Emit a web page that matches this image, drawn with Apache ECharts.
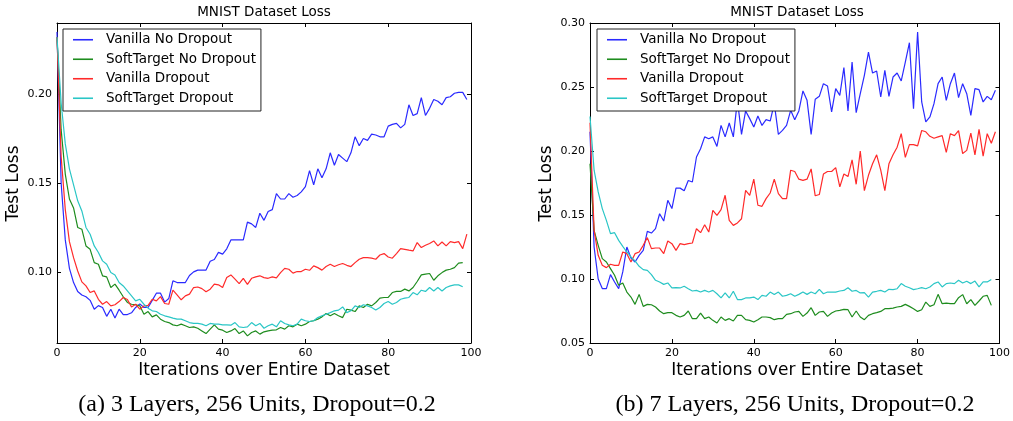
<!DOCTYPE html>
<html><head><meta charset="utf-8">
<script src="https://cdn.jsdelivr.net/npm/echarts@6/dist/echarts.min.js"></script>
<style>html,body{margin:0;padding:0;background:#fff}#c{width:1013px;height:421px}</style>
</head><body><div id="c"></div><script>
// ---- data ----
const seriesNames = ['Vanilla No Dropout', 'SoftTarget No Dropout', 'Vanilla Dropout', 'SoftTarget Dropout'];
const xTicks = [0, 20, 40, 60, 80, 100];
const yTicksA = [0.10, 0.15, 0.20];
const yTicksB = [0.05, 0.10, 0.15, 0.20, 0.25, 0.30];

// (a) 3 layers
const aVanillaNoDrop = [0.235,0.150,0.118,0.102,0.094,0.089,0.087,0.086,0.084,0.079,
0.081,0.080,0.075,0.079,0.074,0.079,0.076,0.076,0.077,0.080,
0.082,0.080,0.080,0.084,0.088,0.088,0.083,0.085,0.095,0.094,
0.094,0.094,0.098,0.100,0.101,0.101,0.101,0.106,0.107,0.111,
0.110,0.113,0.118,0.118,0.118,0.118,0.128,0.127,0.125,0.133,
0.129,0.134,0.135,0.144,0.141,0.141,0.144,0.142,0.143,0.145,
0.148,0.157,0.149,0.158,0.153,0.158,0.167,0.160,0.166,0.164,
0.162,0.167,0.176,0.171,0.175,0.174,0.1775,0.177,0.176,0.176,
0.182,0.183,0.1835,0.181,0.183,0.194,0.188,0.189,0.198,0.188,
0.192,0.197,0.196,0.194,0.198,0.1985,0.2005,0.201,0.201,0.197];
const aSoftNoDrop = [0.232,0.180,0.155,0.141,0.136,0.125,0.124,0.1146,0.1127,0.1052,
0.1043,0.0978,0.0972,0.0912,0.0931,0.0897,0.0860,0.0828,0.0818,0.0815,
0.0809,0.0762,0.0777,0.0747,0.0758,0.0734,0.0721,0.0715,0.0702,0.0697,
0.0706,0.0697,0.0687,0.0691,0.0683,0.0668,0.0653,0.0678,0.0702,0.0678,
0.0672,0.0659,0.0668,0.0681,0.0653,0.0668,0.0640,0.0659,0.0668,0.0650,
0.0663,0.0668,0.0672,0.0674,0.0687,0.0678,0.0697,0.0691,0.0706,0.0697,
0.0706,0.0721,0.0725,0.0734,0.0747,0.0766,0.0753,0.0766,0.0753,0.0743,
0.0790,0.0785,0.0777,0.0809,0.0800,0.0818,0.0809,0.0828,0.0852,0.0856,
0.0856,0.0884,0.0890,0.0890,0.0903,0.0893,0.0912,0.0946,0.0983,0.0987,
0.0991,0.0953,0.0978,0.0996,0.1010,0.1015,0.1024,0.1049,0.1052];
const aVanillaDrop = [0.232,0.165,0.135,0.117,0.108,0.1005,0.0944,0.0921,0.0884,0.0893,
0.0846,0.0818,0.0833,0.0809,0.0815,0.0833,0.0856,0.0845,0.0803,0.0818,
0.0790,0.0809,0.0812,0.0846,0.0837,0.0861,0.0822,0.0818,0.0897,0.0871,
0.0843,0.0865,0.0875,0.0912,0.0915,0.0906,0.0888,0.0903,0.0931,0.0927,
0.0912,0.0968,0.0983,0.0959,0.0934,0.0964,0.0930,0.0964,0.0972,0.0978,
0.0968,0.0964,0.0972,0.0966,0.0996,0.1020,0.1015,0.0993,0.1002,0.1002,
0.1015,0.1009,0.1034,0.1024,0.1010,0.1030,0.1043,0.1030,0.1040,0.1047,
0.1037,0.1030,0.1052,0.1071,0.1080,0.1080,0.1077,0.1071,0.1095,0.1103,
0.1084,0.1077,0.1103,0.1131,0.1127,0.1122,0.1118,0.1165,0.1137,0.1150,
0.1160,0.1174,0.1146,0.1168,0.1146,0.1170,0.1165,0.1170,0.1131,0.1212];
const aSoftDrop = [0.232,0.195,0.172,0.158,0.149,0.140,0.1343,0.125,0.1212,0.1146,
0.1109,0.1062,0.1043,0.0996,0.0983,0.0940,0.0921,0.0893,0.0865,0.0837,
0.0846,0.0818,0.0796,0.0781,0.0777,0.0762,0.0753,0.0747,0.0740,0.0734,
0.0734,0.0725,0.0715,0.0710,0.0710,0.0706,0.0697,0.0710,0.0706,0.0706,
0.0702,0.0702,0.0700,0.0715,0.0691,0.0687,0.0691,0.0715,0.0697,0.0710,
0.0683,0.0697,0.0706,0.0691,0.0725,0.0710,0.0702,0.0697,0.0706,0.0734,
0.0725,0.0721,0.0725,0.0743,0.0753,0.0762,0.0771,0.0781,0.0785,0.0803,
0.0771,0.0781,0.0809,0.0800,0.0815,0.0809,0.0800,0.0785,0.0800,0.0822,
0.0833,0.0818,0.0828,0.0846,0.0852,0.0856,0.0884,0.0871,0.0897,0.0890,
0.0912,0.0893,0.0912,0.0893,0.0912,0.0921,0.0927,0.0927,0.0916];

// (b) 7 layers
const bVanillaNoDrop = [0.215,0.125,0.100,0.0925,0.0925,0.1034,0.0977,0.0925,0.1055,0.125,
0.1164,0.1133,0.1185,0.1224,0.1372,0.1359,0.1393,0.151,0.1453,0.1615,
0.155,0.171,0.171,0.169,0.177,0.1758,0.1953,0.2018,0.211,0.2096,
0.211,0.2036,0.220,0.211,0.2219,0.211,0.2396,0.213,0.2313,0.2253,
0.2188,0.2273,0.220,0.2245,0.2234,0.237,0.213,0.2161,0.220,0.2318,
0.2245,0.2313,0.2469,0.2396,0.213,0.2404,0.2427,0.2526,0.2508,0.2305,
0.2487,0.2435,0.2651,0.2313,0.2695,0.230,0.2448,0.2591,0.2773,0.2609,
0.2625,0.2422,0.263,0.2427,0.2578,0.2609,0.2547,0.2695,0.2846,0.2331,
0.293,0.2383,0.2227,0.2266,0.237,0.2526,0.2578,0.2396,0.2526,0.2609,
0.2417,0.2526,0.2448,0.2279,0.2487,0.2479,0.2383,0.2427,0.2401,0.2474];
const bSoftNoDrop = [0.190,0.138,0.1263,0.1159,0.1133,0.1081,0.1029,0.0951,0.0969,0.0898,
0.0859,0.0802,0.088,0.0786,0.0802,0.0799,0.0781,0.075,0.0729,0.0737,
0.0737,0.0716,0.0703,0.0716,0.075,0.069,0.069,0.0734,0.069,0.0703,
0.0677,0.0656,0.0703,0.0677,0.069,0.0672,0.0716,0.0716,0.0682,0.0677,
0.0664,0.0682,0.0703,0.0703,0.0698,0.0682,0.069,0.069,0.0724,0.0729,
0.0742,0.0747,0.0708,0.0734,0.0776,0.0716,0.0742,0.0747,0.0708,0.0734,
0.075,0.0755,0.0763,0.076,0.0703,0.075,0.0703,0.0682,0.0716,0.0729,
0.0737,0.0747,0.0768,0.0768,0.0773,0.0781,0.0786,0.0802,0.0786,0.0768,
0.0747,0.076,0.082,0.0786,0.0799,0.088,0.0807,0.0812,0.0807,0.0807,
0.0854,0.0878,0.0807,0.0839,0.0794,0.0828,0.0865,0.0872,0.0794];
const bVanillaDrop = [0.222,0.138,0.1185,0.1107,0.1089,0.1115,0.1107,0.1107,0.1211,0.1198,
0.1133,0.1198,0.1211,0.1263,0.1323,0.1237,0.1242,0.1242,0.1198,0.1297,
0.1276,0.1224,0.1276,0.1268,0.1276,0.1281,0.1393,0.1362,0.1424,0.1367,
0.1536,0.1497,0.1542,0.1654,0.1458,0.1419,0.1438,0.1471,0.1693,0.1654,
0.178,0.1576,0.1568,0.1628,0.1672,0.178,0.1667,0.1628,0.1628,0.185,
0.184,0.178,0.177,0.178,0.186,0.165,0.166,0.182,0.184,0.184,
0.187,0.172,0.182,0.180,0.193,0.174,0.200,0.169,0.181,0.190,
0.197,0.185,0.169,0.190,0.197,0.203,0.2135,0.195,0.205,0.205,
0.204,0.216,0.215,0.2115,0.210,0.211,0.212,0.199,0.2135,0.212,
0.216,0.198,0.2005,0.214,0.197,0.217,0.196,0.2135,0.206,0.215];
const bSoftDrop = [0.227,0.185,0.168,0.155,0.1458,0.1354,0.1362,0.1302,0.1255,0.1211,
0.1172,0.1141,0.1099,0.1073,0.1068,0.1034,0.099,0.0977,0.0958,0.0969,
0.093,0.0932,0.093,0.0943,0.0924,0.0906,0.0911,0.0898,0.0911,0.0898,
0.0911,0.0885,0.0852,0.0891,0.0852,0.0904,0.0839,0.0839,0.0852,0.0852,
0.0859,0.0839,0.0872,0.0865,0.0898,0.0878,0.0898,0.0865,0.0872,0.0885,
0.0865,0.0880,0.0898,0.0880,0.0898,0.0885,0.0919,0.0885,0.0898,0.0898,
0.0898,0.0906,0.0911,0.0932,0.0904,0.0911,0.0891,0.0893,0.0859,0.0898,
0.0904,0.0911,0.0898,0.0919,0.0917,0.0924,0.0964,0.0943,0.0932,0.0917,
0.0924,0.0932,0.0924,0.0937,0.0964,0.0977,0.0938,0.0964,0.0969,0.0964,
0.0990,0.0969,0.0982,0.0964,0.0984,0.0938,0.0977,0.0977,0.0997];

const plotTitle = 'MNIST Dataset Loss';
const xName = 'Iterations over Entire Dataset';
const yName = 'Test Loss';
const captions = ['(a) 3 Layers, 256 Units, Dropout=0.2', '(b) 7 Layers, 256 Units, Dropout=0.2'];

// ---- styling / layout ----
const colors = ['#2a2aff', '#1e8c1e', '#ff2a2a', '#2ac6c6'];
const FONT = 'DejaVu Sans';
const grids = [
  {left: 57, top: 23, width: 414, height: 320},
  {left: 590, top: 23, width: 414, height: 320}
];

function xAxes(gi) {
  const common = {gridIndex: gi, type: 'value', min: 0, max: 100, interval: 20,
    axisLine: {show: true, onZero: false, lineStyle: {color: '#000', width: 1}},
    axisTick: {show: true, inside: true, length: 4, customValues: xTicks, lineStyle: {color: '#000'}},
    splitLine: {show: false}};
  return [
    Object.assign({}, common, {position: 'bottom',
      axisLabel: {color: '#000', fontSize: 11, fontFamily: FONT, margin: 5, customValues: xTicks}}),
    Object.assign({}, common, {position: 'top', axisLabel: {show: false}})
  ];
}
function yAxes(gi, min, max, ticks) {
  const common = {gridIndex: gi, type: 'value', min: min, max: max,
    axisLine: {show: true, onZero: false, lineStyle: {color: '#000', width: 1}},
    axisTick: {show: true, inside: true, length: 4, customValues: ticks, lineStyle: {color: '#000'}},
    splitLine: {show: false}};
  return [
    Object.assign({}, common, {position: 'left',
      axisLabel: {color: '#000', fontSize: 11, fontFamily: FONT, margin: 5,
        customValues: ticks, formatter: v => v.toFixed(2)}}),
    Object.assign({}, common, {position: 'right', axisLabel: {show: false}})
  ];
}

const dataA = [aVanillaNoDrop, aSoftNoDrop, aVanillaDrop, aSoftDrop];
const dataB = [bVanillaNoDrop, bSoftNoDrop, bVanillaDrop, bSoftDrop];
const series = [];
[dataA, dataB].forEach((set, gi) => {
  set.forEach((arr, k) => {
    series.push({
      type: 'line', name: seriesNames[k], xAxisIndex: gi * 2, yAxisIndex: gi * 2,
      symbol: 'none', showSymbol: false, animation: false, silent: true,
      color: colors[k],
      lineStyle: {color: colors[k], width: 1.2},
      data: arr.map((v, i) => [i, v])
    });
  });
});

function legendAt(left) {
  return {left: left, top: 29, orient: 'vertical', data: seriesNames,
    icon: 'rect', itemWidth: 20, itemHeight: 1.6, itemGap: 0,
    padding: [1, 5, 3, 10],
    backgroundColor: '#fff', borderColor: '#222', borderWidth: 1, borderRadius: 0,
    textStyle: {color: '#000', fontSize: 13.5, fontFamily: FONT, lineHeight: 19.5, padding: [0, 0, 0, 8]},
    selectedMode: false};
}

function txt(x, y, text, font, rot) {
  return {type: 'text', x: x, y: y, rotation: rot || 0, silent: true,
    style: {text: text, font: font, fill: '#000', align: 'center', verticalAlign: 'middle'}};
}

const graphic = [
  txt(264, 12.5, plotTitle, '13.5px ' + FONT),
  txt(797, 12.5, plotTitle, '13.5px ' + FONT),
  txt(264, 371, xName, '17px ' + FONT),
  txt(797, 371, xName, '17px ' + FONT),
  txt(14, 183.5, yName, '17px ' + FONT, Math.PI / 2),
  txt(547, 183.5, yName, '17px ' + FONT, Math.PI / 2),
  txt(257, 405, captions[0], '24px "Liberation Serif"'),
  txt(795, 405, captions[1], '24px "Liberation Serif"')
];

const chart = echarts.init(document.getElementById('c'), null, {renderer: 'canvas'});
chart.setOption({
  animation: false,
  backgroundColor: '#fff',
  grid: grids,
  xAxis: xAxes(0).concat(xAxes(1)),
  yAxis: yAxes(0, 0.06, 0.24, yTicksA).concat(yAxes(1, 0.05, 0.30, yTicksB)),
  legend: [legendAt(63), legendAt(597)],
  series: series,
  graphic: graphic
});
</script></body></html>
